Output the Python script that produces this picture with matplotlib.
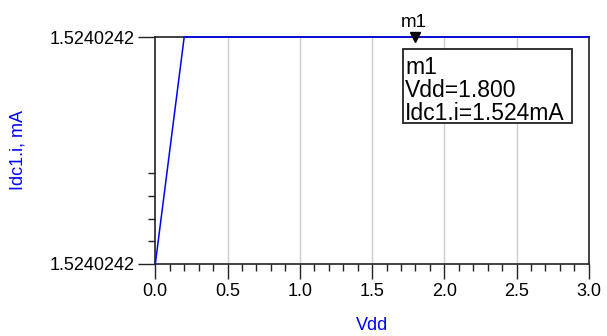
import numpy as np
import matplotlib.pyplot as plt
from matplotlib.patches import Rectangle

plt.rcParams['font.family'] = ['Liberation Sans', 'DejaVu Sans']

# sweep data (Vdd in V, current in mA)
vdd = [0.0, 0.2, 0.4, 0.6, 0.8, 1.0, 1.2, 1.4, 1.6, 1.8, 2.0, 2.2, 2.4, 2.6, 2.8, 3.0]
idc_ma = [1.52402418] + [1.52402424] * 15
xticks = [0.0, 0.5, 1.0, 1.5, 2.0, 2.5, 3.0]
marker_x = 1.8
marker_lines = ["m1", "Vdd=1.800", "Idc1.i=1.524mA"]

fig = plt.figure(figsize=(6.07, 3.36), dpi=100)
ax = fig.add_axes([155.3 / 607, 72 / 336, 433.5 / 607, 227 / 336])

ymin, ymax = min(idc_ma), max(idc_ma)
ax.plot(vdd, idc_ma, color='#0000ff', lw=1.1, clip_on=False, zorder=5)

ax.set_xlim(0, 3)
ax.set_ylim(ymin, ymax)

# axis ticks
ax.set_xticks(xticks)
ax.set_xticklabels(["%.1f" % t for t in xticks])
ax.set_xticks(np.arange(0, 3.01, 0.1), minor=True)
ax.set_yticks([ymin, ymax])
ax.set_yticklabels(["%.7f" % ymin, "%.7f" % ymax])
ax.set_yticks([ymin + k * 0.1 * (ymax - ymin) for k in range(1, 5)], minor=True)
ax.tick_params(axis='both', which='major', direction='out', length=11, width=1,
               labelsize=13, color='#222222', pad=3)
ax.tick_params(axis='both', which='minor', direction='out', length=5, width=1,
               color='#222222')
ax.tick_params(axis='y', which='major', length=12)

# vertical grid only
for t in xticks[1:-1]:
    ax.axvline(t, color='#cccccc', lw=1, zorder=0)

for s in ax.spines.values():
    s.set_color('#222222')
    s.set_linewidth(1.2)

ax.set_xlabel("Vdd", color='#0000ff', fontsize=13, labelpad=12)
ax.set_ylabel("Idc1.i, mA", color='#0000ff', fontsize=13)
ax.yaxis.set_label_coords(-0.296, 0.5)

# marker m1
ax.plot([marker_x], [ymax], marker='v', color='black', ms=7, clip_on=False,
        zorder=6)
ax.annotate("m1", xy=(marker_x, ymax), xytext=(-1, 7.5), textcoords='offset points',
            ha='center', va='baseline', fontsize=13.5, annotation_clip=False, zorder=7)

# marker readout box
box = Rectangle((1.712, 0.621), 1.172, 0.326, transform=ax.get_xaxis_transform(),
                facecolor='white', edgecolor='#222222', lw=1.3, zorder=7)
ax.add_patch(box)
for line, yb in zip(marker_lines, [0.837, 0.736, 0.634]):
    ax.text(1.728, yb, line, transform=ax.get_xaxis_transform(),
            ha='left', va='baseline', fontsize=16.5, zorder=8)

fig.savefig("out.png", dpi=100)
